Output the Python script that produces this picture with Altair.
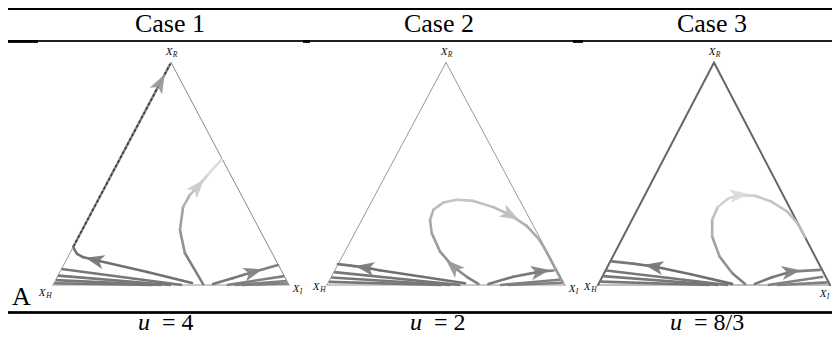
import math
import altair as alt
import pandas as pd

# ---------------------------------------------------------------- data
CASE_TITLES = ["Case 1", "Case 2", "Case 3"]
U_VALUES = ["4", "2", "8/3"]
PANEL_LETTER = "A"
CORNER_SUBS = ["H", "I", "R"]
CORNER_U = [0.0, 1.0, 0.5]      # simplex coordinates: u = 0 at X_H, u = 1 at X_I
CORNER_V = [0.0, 0.0, 1.0]      # v = 1 at X_R

# ---- Case 1 (u = 4)
C1_EDGE_U = [0.086, 0.20, 0.33, 0.4535, 0.497]
C1_EDGE_V = [0.172, 0.40, 0.66, 0.907, 0.994]
C1_LEFT_U = [0.589, 0.40, 0.178, 0.125, 0.102, 0.092, 0.086]
C1_LEFT_V = [0.009, 0.058, 0.112, 0.126, 0.140, 0.158, 0.172]
C1_UP_U = [0.636, 0.559, 0.538, 0.551, 0.580, 0.612, 0.655, 0.715]
C1_UP_V = [0.004, 0.143, 0.247, 0.350, 0.405, 0.440, 0.495, 0.565]
C1_RIGHT_U = [0.678, 0.760, 0.847, 0.953]
C1_RIGHT_V = [0.004, 0.030, 0.058, 0.090]
C1_BUNDLE_L = [(0.547, 0.036, 0.072), (0.50, 0.021, 0.042), (0.46, 0.012, 0.022), (0.42, 0.005, 0.008)]
C1_BUNDLE_R = [(0.737, 0.980, 0.040), (0.77, 0.990, 0.018), (0.80, 0.995, 0.007)]

# ---- Case 2 (u = 2)
C2_LOOP_U = [0.636, 0.587, 0.531, 0.475, 0.440, 0.433, 0.447, 0.489, 0.545, 0.615, 0.699,
             0.769, 0.839, 0.893, 0.925, 0.962, 0.990]
C2_LOOP_V = [0.005, 0.037, 0.082, 0.150, 0.233, 0.293, 0.338, 0.371, 0.383, 0.378, 0.350,
             0.315, 0.266, 0.203, 0.143, 0.068, 0.012]
C2_LEFT_U = [0.580, 0.40, 0.22, 0.16, 0.10, 0.046]
C2_LEFT_V = [0.008, 0.037, 0.066, 0.078, 0.087, 0.094]
C2_RIGHT_U = [0.678, 0.783, 0.895, 0.951]
C2_RIGHT_V = [0.005, 0.037, 0.060, 0.065]
C2_BUNDLE_L = [(0.56, 0.030, 0.058), (0.52, 0.018, 0.034), (0.48, 0.008, 0.014)]
C2_BUNDLE_R = [(0.727, 0.985, 0.025), (0.76, 0.993, 0.010)]

# ---- Case 3 (u = 8/3)
C3_LOOP_U = [0.634, 0.579, 0.524, 0.492, 0.492, 0.516, 0.558, 0.606, 0.676, 0.747, 0.816, 0.862, 0.892]
C3_LOOP_V = [0.005, 0.053, 0.128, 0.218, 0.293, 0.350, 0.387, 0.404, 0.401, 0.375, 0.330, 0.275, 0.216]
C3_LEFT_U = [0.578, 0.40, 0.242, 0.15, 0.060]
C3_LEFT_V = [0.005, 0.048, 0.083, 0.096, 0.106]
C3_RIGHT_U = [0.676, 0.75, 0.831, 0.957]
C3_RIGHT_V = [0.005, 0.035, 0.060, 0.068]
C3_BUNDLE_L = [(0.56, 0.035, 0.065), (0.52, 0.020, 0.040), (0.48, 0.010, 0.015)]
C3_BUNDLE_R = [(0.732, 0.971, 0.037), (0.77, 0.990, 0.012)]

# trajectories per case: name -> (u, v, arrow index / indices)
CASES = [
    {"left": (C1_LEFT_U, C1_LEFT_V, 2), "up": (C1_UP_U, C1_UP_V, 5),
     "right": (C1_RIGHT_U, C1_RIGHT_V, 2)},
    {"left": (C2_LEFT_U, C2_LEFT_V, 3), "loop": (C2_LOOP_U, C2_LOOP_V, [2, 11]),
     "right": (C2_RIGHT_U, C2_RIGHT_V, 2)},
    {"left": (C3_LEFT_U, C3_LEFT_V, 2), "loop": (C3_LOOP_U, C3_LOOP_V, [7]),
     "right": (C3_RIGHT_U, C3_RIGHT_V, 2)},
]
BUNDLES = [(C1_BUNDLE_L, C1_BUNDLE_R), (C2_BUNDLE_L, C2_BUNDLE_R), (C3_BUNDLE_L, C3_BUNDLE_R)]

# ---------------------------------------------------------------- layout / style
FONT = "Liberation Serif"
PANEL_W = [298, 273, 253]
PANEL_H = 328
X_DOMAINS = [(-0.1907, 1.0720), (-0.0882, 1.0588), (-0.0819, 1.0086)]
Y_DOMAIN = (-0.2292, 1.2449)
HEADER_X = [162, 133, 133]
FOOTER_X = [130, 104, 91]
HEADER_Y = 24
FOOTER_Y = 322
BOTTOM_RULE_Y = 304.5

SHADES = {
    "left": (0x70, 0x70, 0x78),
    "right": (0x78, 0x78, 0x80),
    "up": (0x80, 0xb0, 0xdd),
    "loop": (0x80, 0xc8, 0x9a),
}
LOOP3_SHADE = (0x80, 0xd8, 0xb8)
EDGE_STYLE = [  # (left edge colour, right edge colour, base colour, width)
    ("#999999", "#888888", "#bbbbbb", 1.0),
    ("#999999", "#999999", "#bbbbbb", 1.0),
    ("#666666", "#666666", "#aaaaaa", 2.0),
]
ARROW_PATH = "M0,-1L0.7,0.9L0,0.42L-0.7,0.9Z"


def gray(level):
    level = max(0, min(255, int(round(level))))
    return "#{0:02x}{0:02x}{0:02x}".format(level)


def shade_at(stops, t):
    a, m, b = stops
    if t < 0.5:
        return a + (m - a) * t * 2
    return m + (b - m) * (t - 0.5) * 2


def build_panel(i):
    W = PANEL_W[i]
    xd = X_DOMAINS[i]
    kx = W / (xd[1] - xd[0])
    ky = PANEL_H / (Y_DOMAIN[1] - Y_DOMAIN[0])
    xs = alt.Scale(domain=list(xd), nice=False, zero=False)
    ys = alt.Scale(domain=list(Y_DOMAIN), nice=False, zero=False)

    def X(f="u"):
        return alt.X(f + ":Q", scale=xs, axis=None)

    def Y(f="v"):
        return alt.Y(f + ":Q", scale=ys, axis=None)

    layers = []

    # triangle edges
    lc, rc, bc, ew = EDGE_STYLE[i]
    edges = pd.DataFrame([
        dict(u=CORNER_U[0], v=CORNER_V[0], u2=CORNER_U[1], v2=CORNER_V[1], col=bc, w=1.6),
        dict(u=CORNER_U[0], v=CORNER_V[0], u2=CORNER_U[2], v2=CORNER_V[2], col=lc, w=ew),
        dict(u=CORNER_U[1], v=CORNER_V[1], u2=CORNER_U[2], v2=CORNER_V[2], col=rc, w=ew),
    ])
    layers.append(alt.Chart(edges).mark_rule(strokeCap="round", clip=True).encode(
        x=X(), y=Y(), x2="u2:Q", y2="v2:Q",
        color=alt.Color("col:N", scale=None), strokeWidth=alt.StrokeWidth("w:Q", scale=None)))

    # converging bundles along the base
    rows = []
    bl, br = BUNDLES[i]
    for su, eu, ev in bl:
        rows.append(dict(u=su, v=0.0, u2=eu, v2=ev, col="#777777"))
    for su, eu, ev in br:
        rows.append(dict(u=su, v=0.0, u2=eu, v2=ev, col="#808080"))
    layers.append(alt.Chart(pd.DataFrame(rows)).mark_rule(
        strokeWidth=2.6, strokeCap="butt", clip=True).encode(
        x=X(), y=Y(), x2="u2:Q", y2="v2:Q", color=alt.Color("col:N", scale=None)))

    # case 1: trajectory running up the X_H - X_R edge (dashed dark)
    arrows = []
    if i == 0:
        edf = pd.DataFrame({"u": C1_EDGE_U, "v": C1_EDGE_V, "o": list(range(len(C1_EDGE_U)))})
        layers.append(alt.Chart(edf).mark_line(color="#8a8a8a", strokeWidth=2.4, clip=True).encode(
            x=X(), y=Y(), order="o:Q"))
        layers.append(alt.Chart(edf).mark_line(
            color="#3a3a3a", strokeWidth=1.6, strokeDash=[3, 2], clip=True).encode(
            x=X(), y=Y(), order="o:Q"))
        k = 3
        dx = (C1_EDGE_U[k + 1] - C1_EDGE_U[k - 1]) * kx
        dy = -(C1_EDGE_V[k + 1] - C1_EDGE_V[k - 1]) * ky
        arrows.append(dict(u=C1_EDGE_U[k], v=C1_EDGE_V[k],
                           angle=math.degrees(math.atan2(dx, -dy)) % 360, col="#9a9a9a"))

    # trajectories drawn segment by segment (grey gradient)
    seg = []
    for name, (us, vs, ai) in CASES[i].items():
        stops = LOOP3_SHADE if (i == 2 and name == "loop") else SHADES[name]
        n = len(us)
        for k in range(n - 1):
            t = k / max(1, n - 2)
            seg.append(dict(u=us[k], v=vs[k], u2=us[k + 1], v2=vs[k + 1],
                            col=gray(shade_at(stops, t))))
        idx = ai if isinstance(ai, list) else [ai]
        for k in idx:
            a = max(0, k - 1)
            b = min(n - 1, k + 1)
            dx = (us[b] - us[a]) * kx
            dy = -(vs[b] - vs[a]) * ky
            t = k / max(1, n - 1)
            arrows.append(dict(u=us[k], v=vs[k], angle=math.degrees(math.atan2(dx, -dy)) % 360,
                               col=gray(shade_at(stops, t) + 8)))
    layers.append(alt.Chart(pd.DataFrame(seg)).mark_rule(
        strokeWidth=2.6, strokeCap="round", clip=True).encode(
        x=X(), y=Y(), x2="u2:Q", y2="v2:Q", color=alt.Color("col:N", scale=None)))

    layers.append(alt.Chart(pd.DataFrame(arrows)).mark_point(
        shape=ARROW_PATH, filled=True, size=400, opacity=0.95, strokeWidth=0, clip=True).encode(
        x=X(), y=Y(), angle=alt.Angle("angle:Q", scale=None),
        color=alt.Color("col:N", scale=None)))

    # corner labels X_H, X_I, X_R
    corner = pd.DataFrame({"u": CORNER_U, "v": CORNER_V, "s": CORNER_SUBS})
    offs = {
        "H": ((-11, 8 if i == 0 else 2), (-4, 11 if i == 0 else 5)),
        "I": ((7, 4), (12, 7)) if i < 2 else ((-7, 9), (-2, 12)),
        "R": ((-2, -10), (4, -7)),
    }
    for s in CORNER_SUBS:
        (xdx, xdy), (sdx, sdy) = offs[s]
        sub = corner[corner["s"] == s]
        layers.append(alt.Chart(sub).mark_text(
            text="X", font=FONT, fontStyle="italic", fontSize=11, dx=xdx, dy=xdy,
            baseline="middle", align="center", color="#111111", clip=True).encode(x=X(), y=Y()))
        layers.append(alt.Chart(sub).mark_text(
            font=FONT, fontStyle="italic", fontSize=7.5, dx=sdx, dy=sdy,
            baseline="middle", align="center", color="#111111", clip=True).encode(
            x=X(), y=Y(), text="s:N"))

    # table rules
    def hrule(x0, x1, y, w):
        return alt.Chart(corner).mark_rule(strokeWidth=w, color="#000000", clip=True).encode(
            x=alt.value(x0), x2=alt.value(x1), y=alt.value(y))

    layers.append(hrule(0, W, 1, 2))
    layers.append(hrule(0, W, 33, 1))
    layers.append(hrule(0, W, BOTTOM_RULE_Y, 2.2))
    if i == 0:
        layers.append(hrule(0, 30, 33.5, 2))
        layers.append(hrule(295, 298, 33.5, 2))
    if i == 1:
        layers.append(hrule(0, 4, 33.5, 2))
        layers.append(hrule(267, 273, 33.5, 2))
    if i == 2:
        layers.append(hrule(0, 4, 33.5, 2))

    # header, footer, panel letter
    title_df = pd.DataFrame({"t": [CASE_TITLES[i]], "uv": [U_VALUES[i]]})
    layers.append(alt.Chart(title_df).mark_text(
        font=FONT, fontSize=26, align="center", baseline="alphabetic", color="#000000",
        clip=True).encode(x=alt.value(HEADER_X[i]), y=alt.value(HEADER_Y), text="t:N"))
    layers.append(alt.Chart(title_df).mark_text(
        text="u", font=FONT, fontStyle="italic", fontSize=24, align="left",
        baseline="alphabetic", color="#000000", clip=True).encode(
        x=alt.value(FOOTER_X[i]), y=alt.value(FOOTER_Y)))
    layers.append(alt.Chart(title_df).transform_calculate(lab="'= ' + datum.uv").mark_text(
        font=FONT, fontSize=24, align="left", baseline="alphabetic", color="#000000",
        clip=True).encode(x=alt.value(FOOTER_X[i] + 24), y=alt.value(FOOTER_Y), text="lab:N"))
    if i == 0:
        layers.append(alt.Chart(title_df).mark_text(
            text=PANEL_LETTER, font=FONT, fontSize=26, align="left",
            baseline="alphabetic", color="#000000", clip=True).encode(
            x=alt.value(4), y=alt.value(297)))

    return alt.layer(*layers).properties(width=W, height=PANEL_H)


chart = alt.hconcat(*[build_panel(i) for i in range(3)], spacing=0).properties(
    padding=0, background="#ffffff"
).configure_view(stroke=None)

chart.save("out.html", embed_options={"renderer": "svg", "actions": False})
